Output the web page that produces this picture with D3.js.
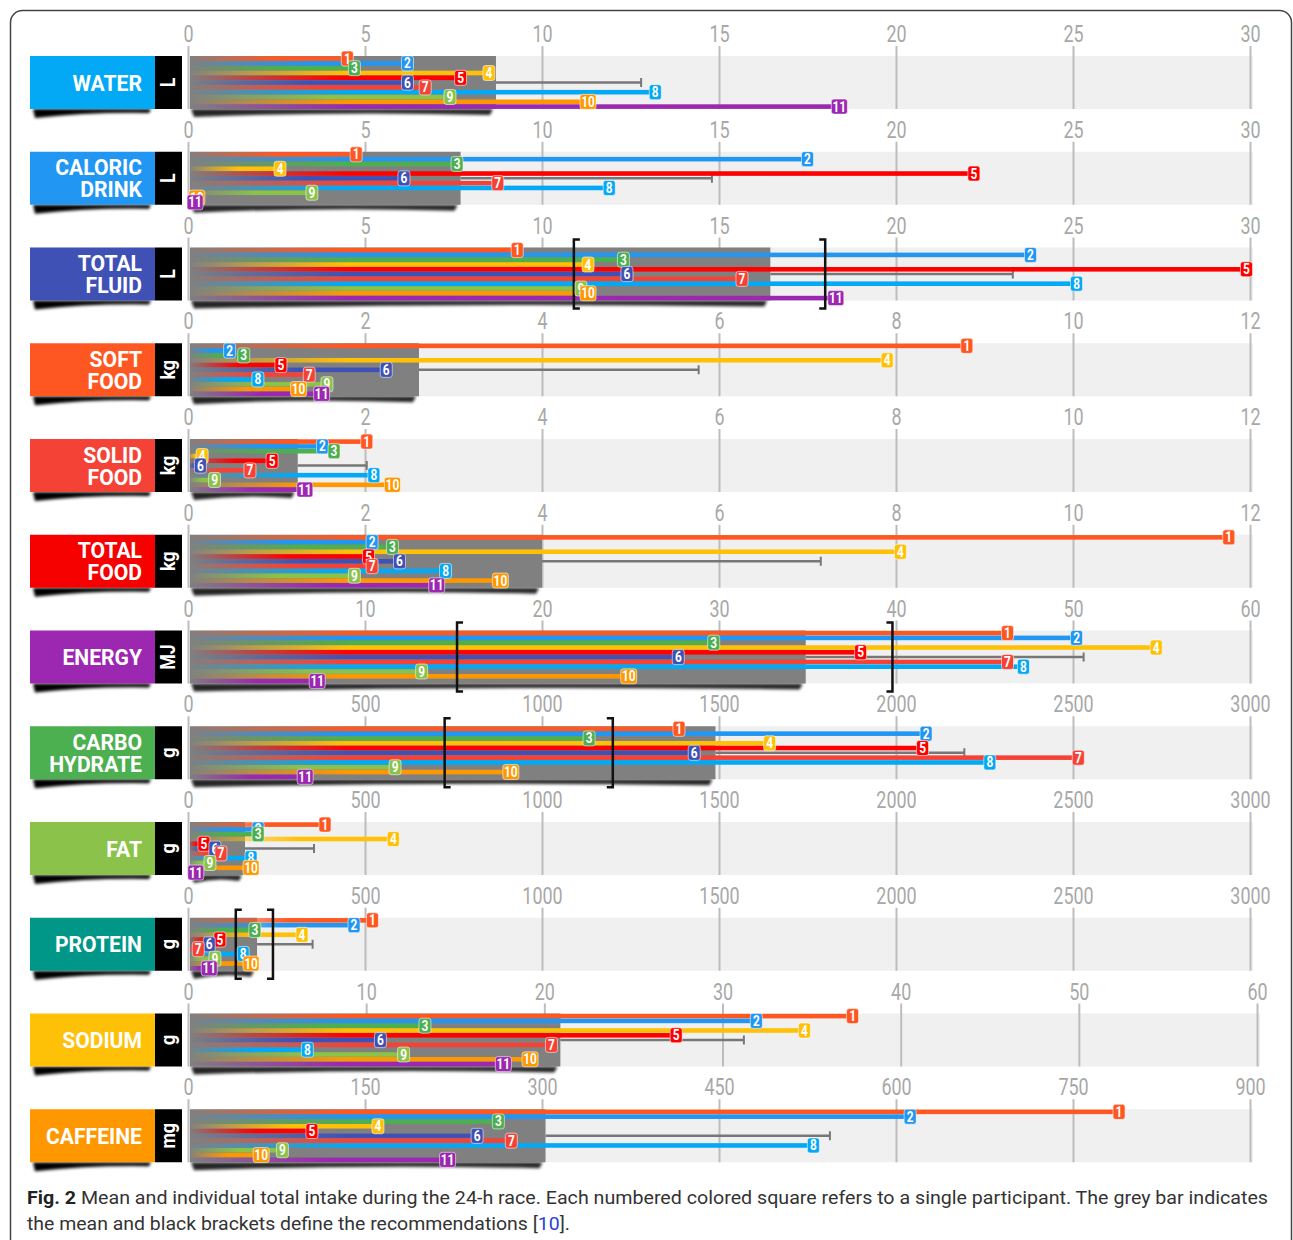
<!DOCTYPE html>
<html><head><meta charset="utf-8">
<script src="https://cdn.jsdelivr.net/npm/d3@7"></script>
<style>body{margin:0;background:#fff} svg{display:block}</style>
</head><body><svg id="c" width="1293" height="1240"></svg>
<script>
// ---------------- DATA ----------------
const participants = [1,2,3,4,5,6,7,8,9,10,11];
const participantColors = ["#ff5722","#2196f3","#4caf50","#ffc107","#ff0000","#3f51b5","#f44336","#03a9f4","#8bc34a","#ff9800","#9c27b0"];

const labelLines = [["WATER"],["CALORIC","DRINK"],["TOTAL","FLUID"],["SOFT","FOOD"],["SOLID","FOOD"],["TOTAL","FOOD"],["ENERGY"],["CARBO","HYDRATE"],["FAT"],["PROTEIN"],["SODIUM"],["CAFFEINE"]];
const labelColors = ["#03a9f4","#2196f3","#3f51b5","#ff5722","#f44336","#f70000","#9c27b0","#4caf50","#8bc34a","#009688","#ffc107","#ff9800"];
const units = ["L","L","L","kg","kg","kg","MJ","g","g","g","g","mg"];
const axisMax = [30,30,30,12,12,12,60,3000,3000,3000,60,900];

const ticks30 = [0,5,10,15,20,25,30];
const ticks12 = [0,2,4,6,8,10,12];
const ticks60 = [0,10,20,30,40,50,60];
const ticks3000 = [0,500,1000,1500,2000,2500,3000];
const ticks900 = [0,150,300,450,600,750,900];
const tickLabels = [ticks30,ticks30,ticks30,ticks12,ticks12,ticks12,ticks60,ticks3000,ticks3000,ticks3000,ticks60,ticks900];

const water        = [4.5,6.2,4.7,8.5,7.7,6.2,6.7,13.2,7.4,11.3,18.4];
const caloricDrink = [4.75,17.5,7.6,2.6,22.2,6.1,8.75,11.9,3.5,0.25,0.2];
const totalFluid   = [9.3,23.8,12.3,11.3,29.9,12.4,15.65,25.1,11.1,11.3,18.3];
const softFood     = [8.8,0.47,0.63,7.9,1.05,2.24,1.37,0.79,1.57,1.25,1.51];
const solidFood    = [2.02,1.52,1.65,0.16,0.95,0.14,0.70,2.10,0.30,2.31,1.32];
const totalFood    = [11.76,2.08,2.31,8.05,2.04,2.39,2.08,2.91,1.88,3.53,2.81];
const energy       = [46.3,50.2,29.7,54.7,38.0,27.7,46.3,47.2,13.2,24.9,7.3];
const carbohydrate = [1387,2085,1133,1643,2075,1430,2515,2265,585,912,331];
const fat          = [387,198,198,580,45,76,93,178,62,178,22];
const protein      = [521,469,189,322,90,60,29,156,76,178,60];
const sodium       = [37.3,31.9,13.3,34.6,27.4,10.8,20.4,6.7,12.1,19.2,17.7];
const caffeine     = [789,612,263,161,105,245,274,530,80,62,220];
const values = [water,caloricDrink,totalFluid,softFood,solidFood,totalFood,energy,carbohydrate,fat,protein,sodium,caffeine];

const means = [8.7,7.7,16.45,2.61,1.24,4.0,34.9,1490,161,195,20.9,303];
const sds   = [4.1,7.1,6.85,3.16,0.78,3.15,15.7,703,195,157,10.3,241];
const recommendations = [null,null,[10.9,18.0],null,null,null,[15.2,39.8],[725,1200],null,[135,240],null,null];

// ---------------- LAYOUT ----------------
const FONT = "Roboto,'Noto Sans',sans-serif";
const svg = d3.select("#c");
const defs = svg.append("defs");
const blur = defs.append("filter").attr("id","blur").attr("x","-10%").attr("y","-100%").attr("width","120%").attr("height","300%");
blur.append("feGaussianBlur").attr("stdDeviation",1.4);

const X0 = 188, X1 = 1250;
const bandH = 53, top0 = 56, step = 95.75;
const rangeEnd = i => (i === 10 ? 1257 : X1);

// outer frame
svg.append("rect").attr("x",10.5).attr("y",10.5).attr("width",1281).attr("height",1260)
  .attr("rx",12).attr("fill","none").attr("stroke","#444").attr("stroke-width",1.5);

values.forEach((vals, i) => {
  const top = top0 + i*step, bot = top + bandH, mid = top + bandH/2;
  const x = d3.scaleLinear().domain([0, axisMax[i]]).range([X0, rangeEnd(i)]);
  const g = svg.append("g");

  // light band
  g.append("rect").attr("x",X0).attr("y",top).attr("width",x(axisMax[i]) - X0 + 3).attr("height",bandH).attr("fill","#f0f0f0");

  // axis (gridlines + tick labels)
  const axis = d3.axisTop(x).tickValues(tickLabels[i]).tickSize(bandH+10).tickPadding(4).tickFormat(d3.format("d"));
  const ga = g.append("g").attr("transform",`translate(0,${bot})`).call(axis);
  ga.select(".domain").remove();
  ga.selectAll("line").attr("stroke","#bdbdbd").attr("stroke-width",2);
  ga.selectAll("text").attr("fill","#a8a8a8").attr("transform","scale(0.78,1)")
    .style("font-size","23px").style("font-family",FONT).style("font-weight","400");

  // label box + shadow
  g.append("path").attr("d",`M33,${bot} L151,${bot} L149,${bot+4} Q90,${bot+3} 35,${bot+9} Z`)
    .attr("fill","#000").attr("filter","url(#blur)");
  g.append("rect").attr("x",30).attr("y",top).attr("width",125).attr("height",bandH).attr("fill",labelColors[i]);
  g.append("rect").attr("x",155).attr("y",top).attr("width",27).attr("height",bandH).attr("fill","#000");
  const lines = labelLines[i];
  lines.forEach((t, k) => {
    const cy = lines.length === 1 ? mid : mid + (k === 0 ? -11 : 11);
    g.append("g").attr("transform",`translate(142,${cy+8}) scale(0.96,1)`)
      .append("text").attr("text-anchor","end")
      .attr("fill","#fff").style("font-family",FONT).style("font-weight","bold").style("font-size","22px").text(t);
  });
  g.append("g").attr("transform",`translate(${175},${mid}) rotate(-90) scale(0.85,1)`)
    .append("text").attr("text-anchor","middle")
    .attr("fill","#fff").style("font-family",FONT).style("font-weight","bold").style("font-size","21px").text(units[i]);

  // mean bar + shadow
  const xm = x(means[i]);
  g.append("path").attr("d",`M${X0+3},${bot} L${xm-3},${bot} L${xm-6},${bot+6} Q${(X0+xm)/2},${bot+2} ${X0+6},${bot+8} Z`)
    .attr("fill","#000").attr("opacity",0.85).attr("filter","url(#blur)");
  g.append("rect").attr("x",X0+2).attr("y",top).attr("width",xm-X0-2).attr("height",bandH).attr("fill","#808080");

  // SD whisker
  const xs = x(means[i] + sds[i]);
  g.append("line").attr("x1",xm).attr("x2",xs).attr("y1",mid).attr("y2",mid).attr("stroke","#777").attr("stroke-width",2.5);
  g.append("line").attr("x1",xs).attr("x2",xs).attr("y1",mid-4.5).attr("y2",mid+4.5).attr("stroke","#777").attr("stroke-width",2);

  // participant bars
  const rowY = k => top + 2.6 + k*4.8;
  vals.forEach((v, k) => {
    const xe = x(v), len = Math.max(xe - X0, 1);
    const fade = Math.min(len*0.55, 160);
    const gid = `gr${i}_${k}`;
    const lg = defs.append("linearGradient").attr("id",gid).attr("gradientUnits","userSpaceOnUse")
      .attr("x1",X0).attr("x2",X0+fade).attr("y1",0).attr("y2",0);
    lg.append("stop").attr("offset",0).attr("stop-color",participantColors[k]).attr("stop-opacity",0);
    lg.append("stop").attr("offset",0.4).attr("stop-color",participantColors[k]).attr("stop-opacity",0.45);
    lg.append("stop").attr("offset",1).attr("stop-color",participantColors[k]).attr("stop-opacity",1);
    g.append("rect").attr("x",X0+2).attr("y",rowY(k)-2.3).attr("width",Math.max(xe-X0-2,0.5)).attr("height",4.6)
      .attr("fill",`url(#${gid})`);
  });

  // recommendation brackets
  const rec = recommendations[i];
  if (rec) {
    const a = x(rec[0]), b = x(rec[1]), y1 = top-8, y2 = bot+8;
    g.append("path").attr("d",`M${a+6},${y1} H${a} V${y2} H${a+6}`).attr("fill","none").attr("stroke","#111").attr("stroke-width",2.5);
    g.append("path").attr("d",`M${b-6},${y1} H${b} V${y2} H${b-6}`).attr("fill","none").attr("stroke","#111").attr("stroke-width",2.5);
  }

  // badges
  vals.forEach((v, k) => {
    const lab = String(participants[k]);
    const w = lab.length > 1 ? 16 : 12;
    const bg = g.append("g").attr("transform",`translate(${x(v)},${rowY(k)})`);
    bg.append("rect").attr("x",-w/2).attr("y",-7.5).attr("width",w).attr("height",15).attr("rx",2.5)
      .attr("fill",participantColors[k]).attr("stroke","#fff").attr("stroke-opacity",0.55).attr("stroke-width",1);
    bg.append("g").attr("transform","translate(0,5) scale(0.85,1)").append("text").attr("text-anchor","middle").attr("fill","#fff")
      .style("font-family",FONT).style("font-weight","bold").style("font-size","14px").text(lab);
  });
});

// caption
const cap = svg.append("g").style("font-family",FONT).style("font-size","18.5px").attr("fill","#333");
const l1 = cap.append("text").attr("x",27).attr("y",1204).attr("textLength",1241).attr("lengthAdjust","spacingAndGlyphs");
l1.append("tspan").style("font-weight","bold").attr("fill","#222").text("Fig. 2");
l1.append("tspan").text(" Mean and individual total intake during the 24-h race. Each numbered colored square refers to a single participant. The grey bar indicates");
const l2 = cap.append("text").attr("x",27).attr("y",1230).attr("textLength",543).attr("lengthAdjust","spacingAndGlyphs");
l2.append("tspan").text("the mean and black brackets define the recommendations [");
l2.append("tspan").attr("fill","#2a3fd6").text("10");
l2.append("tspan").text("].");
</script>
</body></html>
